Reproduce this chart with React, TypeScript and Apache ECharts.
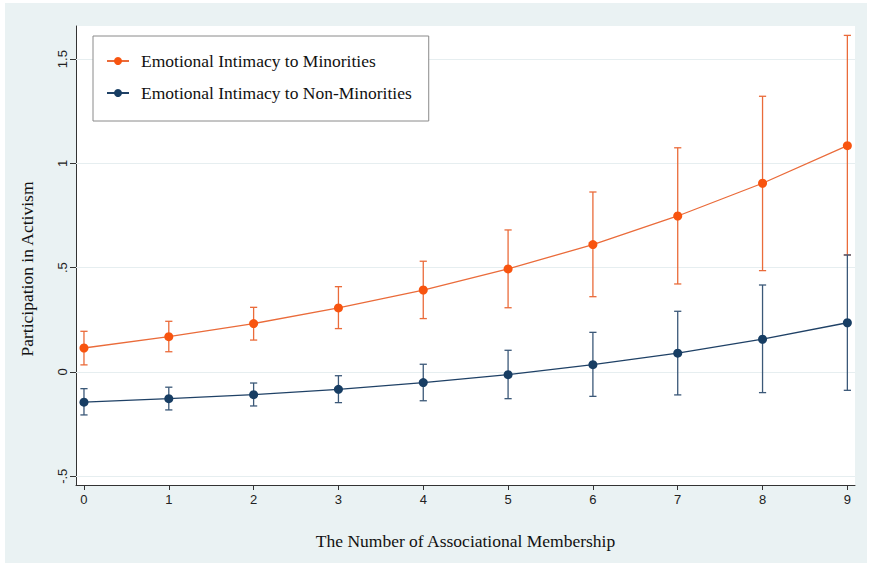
import React, { useEffect, useRef } from "react";
import * as echarts from "echarts";

const xValues = [0, 1, 2, 3, 4, 5, 6, 7, 8, 9];
const yTicks = [-0.5, 0, 0.5, 1, 1.5];

const minorityMean = [0.115, 0.169, 0.232, 0.307, 0.393, 0.494, 0.611, 0.748, 0.905, 1.085];
const minorityLow = [0.034, 0.097, 0.153, 0.208, 0.256, 0.308, 0.361, 0.422, 0.486, 0.561];
const minorityHigh = [0.195, 0.243, 0.31, 0.409, 0.531, 0.681, 0.863, 1.075, 1.322, 1.614];

const nonMinorityMean = [-0.145, -0.128, -0.109, -0.083, -0.051, -0.013, 0.035, 0.09, 0.157, 0.236];
const nonMinorityLow = [-0.206, -0.182, -0.163, -0.147, -0.138, -0.128, -0.117, -0.11, -0.099, -0.088];
const nonMinorityHigh = [-0.08, -0.073, -0.053, -0.018, 0.037, 0.104, 0.19, 0.291, 0.417, 0.561];

const seriesNames = ["Emotional Intimacy to Minorities", "Emotional Intimacy to Non-Minorities"];

const BG = "#eaf2f3";
const ORANGE_MARK = "#f8540f";
const ORANGE_LINE = "#ea6b3a";
const NAVY_MARK = "#173d63";
const NAVY_LINE = "#1f4166";
const NAVY_BAR = "#3b5878";
const SERIF = "'Liberation Serif', 'Times New Roman', serif";
const SANS = "'Liberation Sans', Arial, sans-serif";

function errorBarSeries(low: number[], high: number[], color: string, z: number) {
  return {
    type: "custom",
    silent: true,
    z,
    encode: { x: 0, y: [1, 2] },
    data: xValues.map((x, i) => [x, low[i], high[i]]),
    renderItem: (params: any, api: any) => {
      const lo = api.coord([api.value(0), api.value(1)]);
      const hi = api.coord([api.value(0), api.value(2)]);
      const w = 3.6;
      const style = { stroke: color, lineWidth: 1.3 };
      return {
        type: "group",
        children: [
          { type: "line", shape: { x1: lo[0], y1: lo[1], x2: hi[0], y2: hi[1] }, style },
          { type: "line", shape: { x1: lo[0] - w, y1: lo[1], x2: lo[0] + w, y2: lo[1] }, style },
          { type: "line", shape: { x1: hi[0] - w, y1: hi[1], x2: hi[0] + w, y2: hi[1] }, style },
        ],
      };
    },
  };
}

export default function App() {
  const ref = useRef<HTMLDivElement>(null);
  useEffect(() => {
    if (!ref.current) return;
    const chart = echarts.init(ref.current, null, { renderer: "svg" });
    chart.setOption({
      animation: false,
      graphic: [
        {
          type: "rect",
          z: -100,
          silent: true,
          shape: { x: 5, y: 3, width: 862, height: 560 },
          style: { fill: BG },
        },
        {
          type: "text",
          x: 27,
          y: 269,
          rotation: Math.PI / 2,
          style: {
            text: "Participation in Activism",
            font: `17.5px ${SERIF}`,
            fill: "#111",
            align: "center",
            verticalAlign: "middle",
          },
        },
      ],
      grid: {
        left: 76,
        right: 14,
        top: 26,
        bottom: 78,
        show: true,
        backgroundColor: "#ffffff",
        borderWidth: 0,
      },
      legend: {
        orient: "vertical",
        left: 93,
        top: 36,
        z: 20,
        padding: [16, 17, 19, 13],
        itemGap: 14,
        itemWidth: 22,
        itemHeight: 10,
        backgroundColor: "#ffffff",
        borderColor: "#8a8a8a",
        borderWidth: 1,
        borderRadius: 0,
        data: seriesNames,
        formatter: (name: string) => "{t|" + name + "}",
        textStyle: {
          fontFamily: SERIF,
          fontSize: 17.5,
          color: "#111",
          rich: {
            t: {
              fontFamily: SERIF,
              fontSize: 17.5,
              color: "#111",
              padding: [0, 0, 0, 7],
            },
          },
        },
      },
      xAxis: {
        type: "value",
        min: -0.094,
        max: 9.09,
        name: "The Number of Associational Membership",
        nameLocation: "middle",
        nameGap: 47,
        nameTextStyle: { fontFamily: SERIF, fontSize: 17.5, color: "#111" },
        axisLine: { show: true, onZero: false, lineStyle: { color: "#333", width: 1 } },
        axisTick: { show: true, length: 5, customValues: xValues, lineStyle: { color: "#333" } },
        axisLabel: {
          customValues: xValues,
          margin: 8,
          fontFamily: SANS,
          fontSize: 13,
          color: "#222",
        },
        splitLine: { show: false },
      },
      yAxis: {
        type: "value",
        min: -0.542,
        max: 1.659,
        axisLine: { show: true, onZero: false, lineStyle: { color: "#333", width: 1 } },
        axisTick: { show: true, length: 6, customValues: yTicks, lineStyle: { color: "#333" } },
        axisLabel: {
          customValues: yTicks,
          rotate: 90,
          margin: 7,
          fontFamily: SANS,
          fontSize: 13,
          color: "#222",
          formatter: (v: number) => String(v).replace("0.", "."),
        },
        splitLine: { show: false },
      },
      series: [
        {
          type: "line",
          name: "gridlines",
          silent: true,
          data: [],
          z: 1,
          markLine: {
            z: 1,
            silent: true,
            symbol: "none",
            label: { show: false },
            lineStyle: { color: "#e6eef0", width: 1, type: "solid" },
            data: yTicks.map((v) => ({ yAxis: v })),
          },
        },
        errorBarSeries(minorityLow, minorityHigh, ORANGE_LINE, 2),
        {
          type: "line",
          name: seriesNames[0],
          z: 3,
          data: xValues.map((x, i) => [x, minorityMean[i]]),
          symbol: "circle",
          symbolSize: 9,
          lineStyle: { color: ORANGE_LINE, width: 1.3 },
          itemStyle: { color: ORANGE_MARK },
        },
        errorBarSeries(nonMinorityLow, nonMinorityHigh, NAVY_BAR, 4),
        {
          type: "line",
          name: seriesNames[1],
          z: 5,
          data: xValues.map((x, i) => [x, nonMinorityMean[i]]),
          symbol: "circle",
          symbolSize: 9,
          lineStyle: { color: NAVY_LINE, width: 1.3 },
          itemStyle: { color: NAVY_MARK },
        },
      ],
    });
    return () => chart.dispose();
  }, []);
  return (
    <div
      ref={ref}
      style={{ position: "fixed", left: 0, top: 0, width: 869, height: 563, background: "#ffffff" }}
    />
  );
}
